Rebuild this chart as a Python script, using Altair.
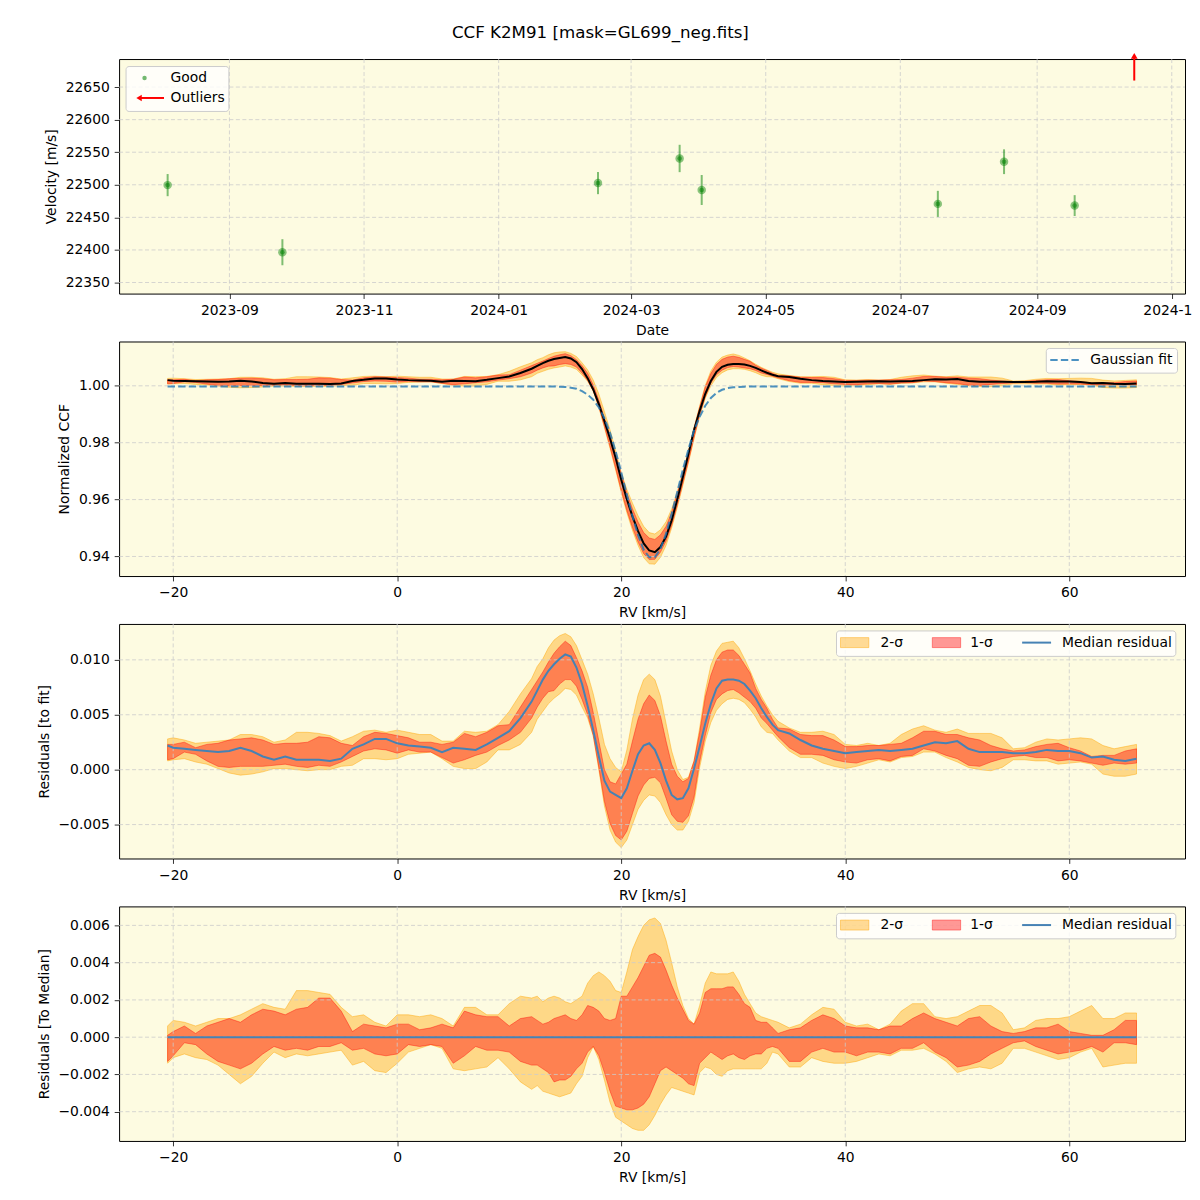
import altair as alt
import pandas as pd

FONT = "DejaVu Sans"
BG = "#FDFBE1"
W, H = 1068, 235
FS = 13.9

# ---------------- Panel 1 : velocities ----------------
obs_dates = ["2023-08-04", "2023-09-25", "2024-02-15", "2024-03-23",
             "2024-04-02", "2024-07-18", "2024-08-17", "2024-09-18"]
obs_velocity = [22499.5, 22396.5, 22502.6, 22540.4, 22492.0, 22470.7, 22535.4, 22468.1]
obs_error = [17, 20, 17, 21, 23, 20, 19, 16]
outlier_dates = ["2024-10-15"]
outlier_arrow_tail = [22660]
outlier_arrow_head = [22698]
date_ticks = ["2023-09-01", "2023-11-01", "2024-01-01", "2024-03-01",
              "2024-05-01", "2024-07-01", "2024-09-01", "2024-11-01"]
velocity_ticks = [22350, 22400, 22450, 22500, 22550, 22600, 22650]

# ---------------- Panels 2-4 : CCF ----------------
rv = [-20.5, -20, -19, -18, -17, -16, -15, -14, -13, -12, -11, -10, -9, -8, -7, -6, -5,
      -4, -3, -2, -1, 0, 1, 2, 3, 4, 5, 6, 7, 8, 9, 10, 11, 12,
      12.5, 13, 13.5, 14, 14.5, 15, 15.5, 16, 16.5, 17, 17.5, 18, 18.5, 19, 19.5,
      20, 20.5, 21, 21.5, 22, 22.5, 23, 23.5, 24, 24.5, 25, 25.5, 26, 26.5, 27, 27.5,
      28, 28.5, 29, 29.5, 30, 30.5, 31, 31.5, 32, 32.5, 33, 33.5, 34,
      35, 36, 37, 38, 39, 40, 41, 42, 43, 44, 45, 46, 47, 48, 49, 50, 51, 52, 53, 54,
      55, 56, 57, 58, 59, 60, 61, 62, 63, 64, 65, 66]

gaussian_fit = [0.9998, 0.9998, 0.9998, 0.9998, 0.9998, 0.9998, 0.9998, 0.9998, 0.9998, 0.9998,
                0.9998, 0.9998, 0.9998, 0.9998, 0.9998, 0.9998, 0.9998, 0.9998, 0.9998, 0.9998,
                0.9998, 0.9998, 0.9998, 0.9998, 0.9998, 0.9998, 0.9998, 0.9998, 0.9998, 0.9998,
                0.9998, 0.9998, 0.9998, 0.9998,
                0.9998, 0.9998, 0.9998, 0.9998, 0.9997, 0.9996, 0.9993, 0.9990, 0.9981, 0.9969,
                0.9951, 0.9924, 0.9886, 0.9835, 0.9770, 0.9696, 0.9618, 0.9542, 0.9475, 0.9424,
                0.9397, 0.9397, 0.9427, 0.9480, 0.9550, 0.9627, 0.9705, 0.9777, 0.9844, 0.9891,
                0.9930, 0.9957, 0.9975, 0.9986, 0.9992, 0.9995, 0.9996, 0.9997, 0.9998, 0.9998,
                0.9998, 0.9998, 0.9998, 0.9998,
                0.9998, 0.9998, 0.9998, 0.9998, 0.9998, 0.9998, 0.9998, 0.9998, 0.9998, 0.9998,
                0.9998, 0.9998, 0.9998, 0.9998, 0.9998, 0.9998, 0.9998, 0.9998, 0.9998, 0.9998,
                0.9998, 0.9998, 0.9998, 0.9998, 0.9998, 0.9998, 0.9998, 0.9998, 0.9998, 0.9998,
                0.9998, 0.9998]

median_residual = [0.0022, 0.0020, 0.0019, 0.0018, 0.0017, 0.0016, 0.0017, 0.0020, 0.0017, 0.0012,
                   0.0009, 0.0012, 0.0009, 0.0009, 0.0009, 0.0008, 0.0010, 0.0019, 0.0023, 0.0028,
                   0.0028, 0.0024, 0.0022, 0.0021, 0.0020, 0.0016, 0.0020, 0.0019, 0.0018, 0.0023,
                   0.0029, 0.0035, 0.0047, 0.0062,
                   0.0072, 0.0082, 0.0090, 0.0096, 0.0101, 0.0105, 0.0103, 0.0093, 0.0078, 0.0058,
                   0.0036, 0.0012, -0.0010, -0.0020, -0.0023, -0.0026, -0.0017, -0.0001, 0.0014, 0.0022,
                   0.0024, 0.0018, 0.0006, -0.0010, -0.0023, -0.0027, -0.0026, -0.0017, 0.0001, 0.0021,
                   0.0042, 0.0060, 0.0074, 0.0081, 0.0082, 0.0082, 0.0081, 0.0078, 0.0072, 0.0065,
                   0.0056, 0.0048, 0.0041, 0.0036,
                   0.0033, 0.0027, 0.0022, 0.0019, 0.0017, 0.0015, 0.0016, 0.0017, 0.0018, 0.0017,
                   0.0018, 0.0019, 0.0022, 0.0025, 0.0024, 0.0026, 0.0019, 0.0016, 0.0016, 0.0016,
                   0.0015, 0.0015, 0.0016, 0.0018, 0.0017, 0.0017, 0.0015, 0.0011, 0.0012, 0.0009,
                   0.0008, 0.0010]

# spread of the individual CCFs around their median (panel 4)
upper_2sigma = [0.0006, 0.0009, 0.0008, 0.0006, 0.0008, 0.0010, 0.0010, 0.0012, 0.0015, 0.0018,
                0.0016, 0.0015, 0.0025, 0.0025, 0.0024, 0.0023, 0.0016, 0.0011, 0.0012, 0.0008,
                0.0006, 0.0012, 0.0012, 0.0011, 0.0012, 0.0010, 0.0006, 0.0016, 0.0016, 0.0012,
                0.0012, 0.0018, 0.0022, 0.0021,
                0.0022, 0.0019, 0.0021, 0.0022, 0.0021, 0.0019, 0.0018, 0.0020, 0.0022, 0.0029,
                0.0033, 0.0035, 0.0033, 0.0030, 0.0025, 0.0024, 0.0035, 0.0047, 0.0054, 0.0060,
                0.0063, 0.0064, 0.0061, 0.0052, 0.0040, 0.0027, 0.0017, 0.0010, 0.0007, 0.0017,
                0.0029, 0.0035, 0.0034, 0.0034, 0.0034, 0.0035, 0.0030, 0.0023, 0.0018, 0.0013,
                0.0011, 0.0010, 0.0009, 0.0008,
                0.0005, 0.0007, 0.0012, 0.0016, 0.0015, 0.0008, 0.0006, 0.0007, 0.0004, 0.0007,
                0.0014, 0.0018, 0.0018, 0.0011, 0.0010, 0.0011, 0.0014, 0.0017, 0.0017, 0.0013,
                0.0004, 0.0005, 0.0009, 0.0010, 0.0010, 0.0011, 0.0014, 0.0017, 0.0010, 0.0010,
                0.0013, 0.0013]
upper_1sigma = [0.0001, 0.0003, 0.0006, 0.0002, 0.0006, 0.0008, 0.0010, 0.0008, 0.0012, 0.0015,
                0.0014, 0.0012, 0.0015, 0.0016, 0.0021, 0.0021, 0.0014, 0.0003, 0.0007, 0.0006,
                0.0005, 0.0007, 0.0007, 0.0004, 0.0005, 0.0007, 0.0005, 0.0014, 0.0012, 0.0011,
                0.0011, 0.0006, 0.0010, 0.0011,
                0.0009, 0.0007, 0.0008, 0.0010, 0.0011, 0.0012, 0.0010, 0.0009, 0.0012, 0.0017,
                0.0016, 0.0014, 0.0010, 0.0009, 0.0010, 0.0022, 0.0022, 0.0027, 0.0032, 0.0038,
                0.0044, 0.0045, 0.0043, 0.0036, 0.0028, 0.0021, 0.0015, 0.0009, 0.0007, 0.0013,
                0.0024, 0.0026, 0.0026, 0.0026, 0.0027, 0.0027, 0.0023, 0.0018, 0.0016, 0.0009,
                0.0008, 0.0008, 0.0005, 0.0002,
                0.0004, 0.0005, 0.0009, 0.0012, 0.0010, 0.0006, 0.0005, 0.0005, 0.0004, 0.0006,
                0.0006, 0.0010, 0.0013, 0.0010, 0.0008, 0.0006, 0.0010, 0.0011, 0.0006, 0.0003,
                0.0002, 0.0003, 0.0005, 0.0005, 0.0007, 0.0003, 0.0002, 0.0001, 0.0001, 0.0004,
                0.0009, 0.0009]
lower_1sigma = [-0.0013, -0.0010, -0.0003, -0.0004, -0.0009, -0.0013, -0.0015, -0.0017, -0.0014, -0.0009,
                -0.0005, -0.0007, -0.0006, -0.0007, -0.0005, -0.0005, -0.0003, -0.0007, -0.0006, -0.0009,
                -0.0010, -0.0009, -0.0004, -0.0005, -0.0004, -0.0005, -0.0014, -0.0010, -0.0005, -0.0007,
                -0.0007, -0.0008, -0.0013, -0.0015,
                -0.0015, -0.0017, -0.0019, -0.0024, -0.0023, -0.0023, -0.0021, -0.0017, -0.0014, -0.0008,
                -0.0005, -0.0010, -0.0019, -0.0029, -0.0037, -0.0038, -0.0039, -0.0039, -0.0038, -0.0036,
                -0.0032, -0.0025, -0.0018, -0.0016, -0.0018, -0.0020, -0.0022, -0.0025, -0.0026, -0.0014,
                -0.0011, -0.0008, -0.0010, -0.0012, -0.0010, -0.0009, -0.0011, -0.0012, -0.0010, -0.0009,
                -0.0009, -0.0006, -0.0005, -0.0006,
                -0.0013, -0.0013, -0.0008, -0.0006, -0.0008, -0.0008, -0.0010, -0.0008, -0.0008, -0.0009,
                -0.0006, -0.0006, -0.0003, -0.0008, -0.0011, -0.0016, -0.0015, -0.0013, -0.0009, -0.0006,
                -0.0003, -0.0002, -0.0005, -0.0007, -0.0009, -0.0008, -0.0007, -0.0005, -0.0008, -0.0003,
                -0.0003, -0.0004]
lower_2sigma = [-0.0014, -0.0011, -0.0009, -0.0011, -0.0012, -0.0015, -0.0020, -0.0025, -0.0021, -0.0014,
                -0.0008, -0.0011, -0.0009, -0.0010, -0.0009, -0.0008, -0.0007, -0.0015, -0.0013, -0.0018,
                -0.0019, -0.0014, -0.0008, -0.0006, -0.0004, -0.0006, -0.0017, -0.0018, -0.0017, -0.0016,
                -0.0011, -0.0017, -0.0024, -0.0028,
                -0.0026, -0.0029, -0.0030, -0.0031, -0.0032, -0.0031, -0.0030, -0.0025, -0.0021, -0.0011,
                -0.0005, -0.0012, -0.0023, -0.0035, -0.0043, -0.0045, -0.0047, -0.0049, -0.0050, -0.0050,
                -0.0047, -0.0042, -0.0036, -0.0031, -0.0027, -0.0028, -0.0029, -0.0030, -0.0031, -0.0019,
                -0.0016, -0.0017, -0.0020, -0.0021, -0.0018, -0.0017, -0.0017, -0.0017, -0.0017, -0.0017,
                -0.0017, -0.0014, -0.0008, -0.0009,
                -0.0016, -0.0016, -0.0011, -0.0013, -0.0014, -0.0014, -0.0013, -0.0011, -0.0009, -0.0010,
                -0.0007, -0.0007, -0.0006, -0.0009, -0.0013, -0.0019, -0.0017, -0.0016, -0.0017, -0.0014,
                -0.0006, -0.0006, -0.0008, -0.0010, -0.0012, -0.0011, -0.0008, -0.0006, -0.0016, -0.0015,
                -0.0014, -0.0014]

rv_ticks = [-20, 0, 20, 40, 60]
ccf_ticks = [0.94, 0.96, 0.98, 1.00]
res_fit_ticks = [-0.005, 0.0, 0.005, 0.010]
res_med_ticks = [-0.004, -0.002, 0.0, 0.002, 0.004, 0.006]

# ---------------- helpers ----------------
ONE = pd.DataFrame({"k": [0]})
GRID = dict(color="#cccccc", strokeDash=[4, 2.5], strokeWidth=0.8)


def box(x1, x2, y1, y2):
    return alt.Chart(ONE).mark_rect(fill="white", fillOpacity=0.8, stroke="#cccccc",
                                    strokeWidth=1, cornerRadius=3).encode(
        x=alt.value(x1), x2=alt.value(x2), y=alt.value(y1), y2=alt.value(y2))


def label(txt, x, y):
    return alt.Chart(ONE).mark_text(text=txt, font=FONT, fontSize=FS, align="left",
                                    baseline="middle", color="black").encode(
        x=alt.value(x), y=alt.value(y))


def dt(s):
    y, m, d = (int(v) for v in s.split("-"))
    return alt.DateTime(year=y, month=m, date=d, utc=True)


# ---------------- Panel 1 ----------------
obs = pd.DataFrame({"date": obs_dates, "velocity": obs_velocity, "err": obs_error})
obs["lo"] = obs["velocity"] - obs["err"]
obs["hi"] = obs["velocity"] + obs["err"]
outl = pd.DataFrame({"date": outlier_dates, "velocity": outlier_arrow_tail,
                     "head": outlier_arrow_head})

xs1 = alt.Scale(type="utc", domain=[dt("2023-07-13"), dt("2024-11-07")], nice=False)
ys1 = alt.Scale(domain=[22333, 22693], nice=False, zero=False)
xax1 = alt.Axis(title="Date", values=[dt(d) for d in date_ticks], format="%Y-%m")
yax1 = alt.Axis(title="Velocity [m/s]", values=velocity_ticks, format="d")


def X1(f):
    return alt.X(f, type="temporal", scale=xs1, axis=xax1)


def Y1(f):
    return alt.Y(f, type="quantitative", scale=ys1, axis=yax1)


p1_layers = [
    alt.Chart(pd.DataFrame({"date": date_ticks})).mark_rule(**GRID).encode(
        x=X1("date"), y=alt.value(0), y2=alt.value(H)),
    alt.Chart(pd.DataFrame({"velocity": velocity_ticks})).mark_rule(**GRID).encode(
        y=Y1("velocity"), x=alt.value(0), x2=alt.value(W)),
    alt.Chart(obs).mark_rule(color="green", opacity=0.5, strokeWidth=2).encode(
        x=X1("date"), y=Y1("lo"), y2="hi"),
    alt.Chart(obs).mark_circle(color="green", opacity=0.45, size=72).encode(
        x=X1("date"), y=Y1("velocity")),
    alt.Chart(obs).mark_circle(color="green", opacity=0.5, size=22).encode(
        x=X1("date"), y=Y1("velocity")),
    alt.Chart(outl).mark_rule(color="red", strokeWidth=2).encode(
        x=X1("date"), y=Y1("velocity"), y2="head"),
    alt.Chart(outl).mark_point(shape="triangle-up", filled=True, color="red", opacity=1,
                               size=45).encode(x=X1("date"), y=Y1("head")),
    box(7, 110, 7.5, 52.5),
    alt.Chart(ONE).mark_circle(color="green", opacity=0.55, size=20).encode(
        x=alt.value(25.5), y=alt.value(19)),
    label("Good", 51.5, 19),
    alt.Chart(ONE).mark_rule(color="red", strokeWidth=2).encode(
        x=alt.value(20), x2=alt.value(45), y=alt.value(39)),
    alt.Chart(ONE).mark_point(shape="triangle-left", filled=True, color="red", opacity=1,
                              size=40).encode(x=alt.value(20), y=alt.value(39)),
    label("Outliers", 51.5, 39),
]
p1 = alt.layer(*p1_layers).properties(width=W, height=H)

# ---------------- Panels 2-4 ----------------
df = pd.DataFrame({"rv": rv, "gauss": gaussian_fit, "res": median_residual,
                   "hi2": upper_2sigma, "hi1": upper_1sigma,
                   "lo1": lower_1sigma, "lo2": lower_2sigma})
df["ccf"] = df["gauss"] + df["res"]
for k in ["hi2", "hi1", "lo1", "lo2"]:
    df["ccf_" + k] = df["ccf"] + df[k]
    df["res_" + k] = df["res"] + df[k]
df["zero"] = df["res"] - df["res"]

xs = alt.Scale(domain=[-24.83, 70.33], nice=False, zero=False)
xax = alt.Axis(title="RV [km/s]", values=rv_ticks, format="d")


def XR(f="rv"):
    return alt.X(f, type="quantitative", scale=xs, axis=xax)


def band_panel(prefix, domain, ticks, fmt, title, lines, legend):
    ys = alt.Scale(domain=domain, nice=False, zero=False)
    yax = alt.Axis(title=title, values=ticks, format=fmt)

    def Y(f):
        return alt.Y(f, type="quantitative", scale=ys, axis=yax)

    layers = [
        alt.Chart(df).mark_area(fill="orange", fillOpacity=0.4, stroke="orange",
                                strokeOpacity=0.45, strokeWidth=1).encode(
            x=XR(), y=Y(prefix + "lo2"), y2=prefix + "hi2"),
        alt.Chart(df).mark_area(fill="red", fillOpacity=0.4, stroke="red",
                                strokeOpacity=0.4, strokeWidth=1).encode(
            x=XR(), y=Y(prefix + "lo1"), y2=prefix + "hi1"),
        alt.Chart(pd.DataFrame({"rv": rv_ticks})).mark_rule(**GRID).encode(
            x=XR(), y=alt.value(0), y2=alt.value(H)),
        alt.Chart(pd.DataFrame({"tick": ticks})).mark_rule(**GRID).encode(
            y=Y("tick"), x=alt.value(0), x2=alt.value(W)),
    ]
    for field, props in lines:
        layers.append(alt.Chart(df).mark_line(**props).encode(x=XR(), y=Y(field)))
    layers += legend
    return alt.layer(*layers).properties(width=W, height=H)


BLUE_MED = dict(color="#4682B4", strokeWidth=2)
GAUSS = dict(color="#1f77b4", strokeOpacity=0.8, strokeWidth=2, strokeDash=[7.4, 3.2])

legend2 = [
    box(929, 1060.5, 7, 31.7),
    alt.Chart(ONE).mark_rule(color="#1f77b4", strokeOpacity=0.8, strokeWidth=2,
                             strokeDash=[7.4, 3.2]).encode(
        x=alt.value(933), x2=alt.value(963), y=alt.value(18.5)),
    label("Gaussian fit", 973, 18.5),
]


def sigma_legend():
    yc = 18.7
    return [
        box(718.8, 1058.8, 7, 32.5),
        alt.Chart(ONE).mark_rect(fill="orange", fillOpacity=0.4, stroke="orange",
                                 strokeOpacity=0.45).encode(
            x=alt.value(722.8), x2=alt.value(751.2), y=alt.value(yc - 5), y2=alt.value(yc + 5)),
        label("2-σ", 762.8, yc),
        alt.Chart(ONE).mark_rect(fill="red", fillOpacity=0.4, stroke="red",
                                 strokeOpacity=0.4).encode(
            x=alt.value(814.8), x2=alt.value(843.2), y=alt.value(yc - 5), y2=alt.value(yc + 5)),
        label("1-σ", 852.8, yc),
        alt.Chart(ONE).mark_rule(color="#4682B4", strokeWidth=2).encode(
            x=alt.value(904.8), x2=alt.value(933.8), y=alt.value(yc)),
        label("Median residual", 944.8, yc),
    ]


p2 = band_panel("ccf_", [0.93312, 1.01558], ccf_ticks, ".2f", "Normalized CCF",
                [("ccf", dict(color="black", strokeWidth=2)), ("gauss", GAUSS)], legend2)
p3 = band_panel("res_", [-0.00809, 0.01327], res_fit_ticks, ".3f", "Residuals [to fit]",
                [("res", BLUE_MED)], sigma_legend())
p4 = band_panel("", [-0.00557, 0.00702], res_med_ticks, ".3f", "Residuals [To Median]",
                [("zero", BLUE_MED)], sigma_legend())

chart = alt.vconcat(
    p1, p2, p3, p4, spacing=2,
    title=alt.TitleParams("CCF K2M91 [mask=GL699_neg.fits]", font=FONT, fontSize=16.7,
                          fontWeight="normal", anchor="middle", dx=-18.5, offset=11,
                          color="black"),
).resolve_scale(x="independent", y="independent").properties(
    padding={"left": 28.3, "top": 15, "right": -10, "bottom": 0}, background="white"
).configure_axis(
    labelFont=FONT, labelFontSize=FS, labelColor="black",
    titleFont=FONT, titleFontSize=FS, titleFontWeight="normal", titleColor="black",
    tickColor="black", tickSize=4.9, tickWidth=0.8, labelPadding=4.9,
    domain=False, grid=False, labelFlush=False,
).configure_axisX(titlePadding=6).configure_axisY(titlePadding=7).configure_view(
    stroke="black", strokeWidth=1, fill=BG
)

chart.save("out.html", embed_options={"renderer": "svg", "actions": False})
